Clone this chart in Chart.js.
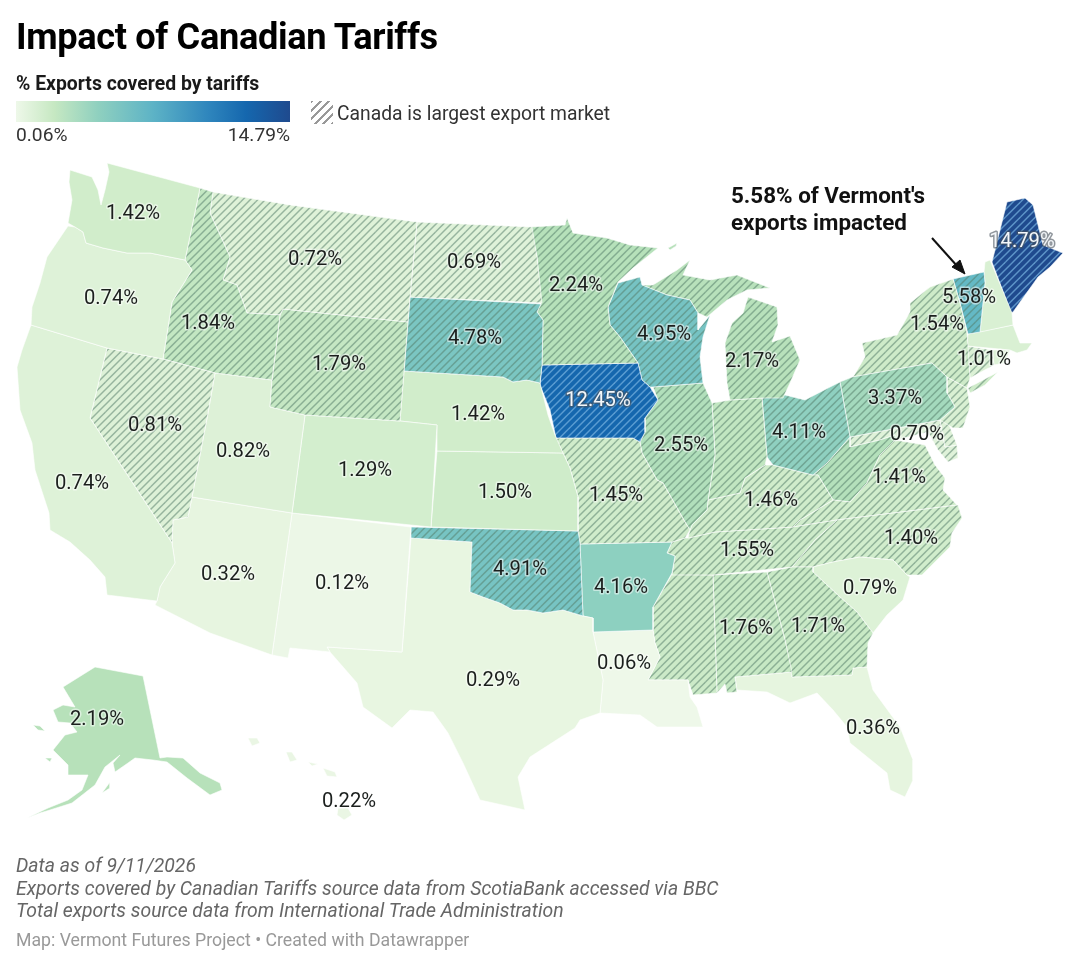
<!DOCTYPE html>
<html>
<head>
<meta charset="utf-8">
<title>Impact of Canadian Tariffs</title>
<script src="https://cdn.jsdelivr.net/npm/chart.js@4/dist/chart.umd.min.js"></script>
<style>
html, body { margin: 0; padding: 0; background: #fff; overflow: hidden; }
body { width: 1080px; height: 967px; position: relative; font-family: Roboto, sans-serif; color: #111; }
#wrap { position: absolute; left: 0; top: 0; width: 1080px; height: 967px; }
.txt { position: absolute; white-space: nowrap; }
#title { left: 16px; top: 14px; font-size: 36.2px; line-height: 46px; font-weight: 700; color: #000; letter-spacing: -0.35px; }
#legendTitle { left: 16px; top: 72px; font-size: 19.4px; line-height: 24px; font-weight: 700; color: #1a1a1a; }
#ramp { position: absolute; left: 16px; top: 101px; width: 274px; height: 21px;
  background: linear-gradient(90deg, #eef8e9 0%, #c6e8c2 14%, #8fd0bf 30%, #5db3c6 50%, #2f86bd 70%, #1567ae 84%, #1f4a8e 100%); }
#rampMin { left: 16px; top: 124px; font-size: 19.2px; line-height: 22px; color: #333; }
#rampMax { left: 190px; width: 100px; text-align: right; top: 124px; font-size: 19.2px; line-height: 22px; color: #333; }
#swatch { position: absolute; left: 311px; top: 101px; width: 22px; height: 23px;
  background: repeating-linear-gradient(135deg, #999 0 1.8px, #fff 1.8px 6px); }
#hatchText { left: 337px; top: 101px; font-size: 19.3px; line-height: 25px; color: #333; }
#note { left: 731px; top: 182px; font-size: 22.4px; line-height: 27px; font-weight: 700; color: #111; }
#foot { left: 16px; top: 855px; font-size: 19.4px; line-height: 22.7px; font-style: italic; color: #666; }
#credit { left: 16px; top: 929px; font-size: 17.7px; line-height: 22px; color: #999; }
</style>
</head>
<body>
<div id="wrap"><canvas id="map"></canvas></div>
<div class="txt" id="title">Impact of Canadian Tariffs</div>
<div class="txt" id="legendTitle">% Exports covered by tariffs</div>
<div id="ramp"></div>
<div class="txt" id="rampMin">0.06%</div>
<div class="txt" id="rampMax">14.79%</div>
<div id="swatch"></div>
<div class="txt" id="hatchText">Canada is largest export market</div>
<div class="txt" id="note">5.58% of Vermont's<br>exports impacted</div>
<div class="txt" id="foot">Data as of 9/11/2026<br>Exports covered by Canadian Tariffs source data from ScotiaBank accessed via BBC<br>Total exports source data from International Trade Administration</div>
<div class="txt" id="credit">Map: Vermont Futures Project • Created with Datawrapper</div>
<script>
// state values (unlabelled ones estimated from fill colour)
const stateCodes = ['WA','OR','CA','NV','ID','MT','WY','UT','AZ','CO','NM','ND','SD','NE','KS','OK','TX','MN','IA','MO','AR','LA','WI','IL','MI','IN','OH','KY','TN','MS','AL','GA','FL','SC','NC','VA','WV','PA','NY','VT','NH','ME','MA','CT','RI','NJ','DE','MD','AK','HI'];
const stateValues = [1.42,0.74,0.74,0.81,1.84,0.72,1.79,0.82,0.32,1.29,0.12,0.69,4.78,1.42,1.50,4.91,0.29,2.24,12.45,1.45,4.16,0.06,4.95,2.55,2.17,1.9,4.11,1.46,1.55,1.6,1.76,1.71,0.36,0.79,1.40,1.41,2.4,3.37,1.54,5.58,1.0,14.79,1.01,0.9,0.8,1.0,0.7,0.70,2.19,0.22];
const canadaTop = ['NV','ID','MT','WY','ND','SD','OK','MN','IA','MO','WI','IL','MI','IN','OH','KY','TN','MS','AL','GA','NC','VA','WV','PA','NY','VT','ME','CT','NJ','DE','MD'];

// label anchors in map units
const labelX = [133,111,82,155,208,315,339,243,228,365,342,474,475,478,505,520,493,576,598,616,621,624,664,681,752,null,799,771,747,null,746,818,873,870,911,899,null,895,937,969,null,1022,984,null,null,null,null,917,97,349];
const labelY = [212,297,482,424,322,258,363,450,573,469,582,261,337,413,491,568,679,284,399,494,586,662,333,444,360,null,431,499,549,null,627,625,727,587,537,476,null,397,323,296,null,240,358,null,null,null,null,433,718,800];

// colour ramp stops (value, colour)
const rampValues = [0.06,0.36,1.5,2.2,3.4,4.2,5.6,8,12.45,14.79];
const rampColors = ['#eef8e9','#e6f5df','#cfecca','#b7e1ba','#a3d9bd','#8ccfc0','#63b9c5','#3f9ac4','#1567ae','#1f4a8e'];

// outlines in map units (1 unit = 1 reference pixel)
const WA = [[70,170],[92,177],[98,190],[101,205],[105,190],[109,172],[107,163],[200,188],[185,260],[150,253],[127,253],[103,248],[86,243],[83,232],[75,227],[68,223],[72,200],[69,182]];
const OR = [[68,226],[75,227],[83,232],[86,243],[103,248],[127,253],[150,253],[185,260],[192,270],[172,302],[163,359],[107,348],[31,325],[32,307],[40,283],[47,257]];
const CA = [[31,325],[107,348],[90,418],[172,543],[175,563],[160,587],[157,601],[107,595],[105,577],[90,560],[70,542],[50,530],[49,513],[35,470],[32,443],[20,410],[17,367],[22,350]];
const NV = [[107,348],[163,359],[215,373],[208,413],[192,497],[188,517],[173,520],[172,543],[90,418]];
const ID = [[200,188],[213,192],[210,213],[230,257],[223,280],[237,285],[247,313],[280,315],[272,380],[215,373],[163,359],[172,302],[192,270],[185,260]];
const MT = [[213,192],[290,205],[417,222],[410,297],[408,322],[283,309],[280,315],[247,313],[237,285],[223,280],[230,257],[210,213]];
const WY = [[283,309],[408,322],[400,421],[305,415],[270,407],[272,380],[280,315]];
const UT = [[215,373],[272,380],[270,407],[305,415],[292,513],[192,497],[208,413]];
const AZ = [[192,497],[292,513],[272,655],[210,633],[155,605],[157,601],[160,587],[175,563],[172,543],[173,520],[188,517]];
const CO = [[305,415],[400,421],[437,425],[431,527],[292,513]];
const NM = [[292,513],[411,527],[402,652],[327,647],[330,652],[290,648],[288,658],[272,655]];
const ND = [[417,222],[532,227],[537,257],[542,303],[410,297]];
const SD = [[410,297],[541,304],[537,312],[543,320],[542,365],[540,383],[527,380],[513,382],[503,377],[404,371]];
const NE = [[404,371],[503,377],[513,382],[527,380],[540,383],[548,415],[555,435],[563,453],[437,451],[437,425],[400,421]];
const KS = [[437,451],[563,453],[570,468],[578,497],[578,531],[431,527]];
const OK = [[411,527],[578,531],[580,543],[583,616],[563,610],[543,613],[527,610],[513,610],[500,603],[483,597],[470,592],[472,542],[411,538]];
const TX = [[411,538],[472,542],[470,592],[483,597],[500,603],[513,610],[527,610],[543,613],[563,610],[583,616],[593,618],[593,632],[603,680],[600,713],[580,720],[575,728],[530,757],[518,777],[525,810],[480,800],[463,763],[448,733],[433,712],[410,710],[392,728],[363,707],[357,683],[330,652],[327,647],[402,652]];
const MN = [[530,227],[565,225],[567,218],[573,233],[607,238],[630,245],[658,248],[633,268],[618,282],[608,307],[610,325],[620,337],[638,363],[542,365],[543,320],[537,312],[541,304],[537,257]];
const IA = [[542,365],[638,363],[642,380],[650,387],[658,400],[645,418],[645,432],[640,442],[633,438],[556,438],[550,410],[540,385]];
const MO = [[556,438],[633,438],[640,442],[642,453],[657,480],[663,483],[685,522],[690,530],[685,538],[672,542],[580,544],[578,531],[578,497],[570,468],[563,453],[555,437]];
const AR = [[580,544],[672,542],[667,553],[675,556],[672,573],[653,607],[653,630],[593,632],[593,618],[583,616]];
const LA = [[593,632],[653,630],[655,643],[660,657],[648,680],[688,680],[690,697],[697,707],[703,727],[657,727],[640,715],[600,713],[603,680]];
const WI = [[618,283],[640,277],[642,285],[667,295],[690,300],[698,313],[698,330],[710,315],[703,337],[700,357],[703,383],[653,387],[650,387],[642,380],[638,363],[620,337],[610,325],[608,307]];
const MIUpper = [[653,285],[677,270],[690,260],[683,275],[710,280],[737,275],[770,288],[747,290],[727,300],[707,317],[698,313],[690,300],[667,295],[642,285]];
const MILower = [[748,297],[777,307],[778,325],[772,342],[790,336],[800,360],[790,383],[783,398],[762,398],[730,400],[727,383],[725,343],[732,323],[743,313]];
const IsleRoyale = [[668,248],[677,243],[676,246],[670,250]];
const IL = [[653,387],[703,383],[712,403],[715,455],[708,500],[707,510],[692,525],[690,530],[685,522],[663,483],[657,480],[642,453],[640,442],[645,432],[645,418],[658,400]];
const IN = [[712,403],[730,400],[762,398],[767,457],[765,465],[745,478],[740,493],[708,500],[715,455]];
const OH = [[762,398],[785,395],[805,400],[830,387],[840,382],[850,437],[827,463],[813,475],[793,470],[773,465],[767,457]];
const KY = [[690,530],[692,525],[707,510],[708,500],[740,493],[745,478],[765,465],[773,465],[793,470],[813,475],[818,475],[833,500],[800,520],[793,527],[715,532],[688,538]];
const TN = [[688,538],[715,532],[793,527],[837,520],[815,540],[792,567],[713,575],[672,575],[675,556],[667,553],[672,542],[685,538]];
const MS = [[672,574],[713,575],[717,693],[693,695],[688,680],[648,680],[660,657],[655,643],[653,630],[653,607]];
const AL = [[713,575],[767,572],[785,640],[792,672],[735,677],[737,692],[727,693],[725,684],[717,693]];
const GA = [[767,572],[792,567],[813,567],[813,572],[840,597],[857,612],[873,633],[868,643],[867,667],[853,668],[852,675],[792,677],[785,640]];
const FL = [[735,677],[792,672],[792,677],[852,675],[853,668],[867,667],[873,690],[900,727],[913,760],[913,780],[905,797],[890,790],[887,773],[850,743],[847,727],[833,710],[817,693],[790,703],[767,692],[737,690]];
const SC = [[813,567],[833,562],[860,557],[893,560],[907,575],[910,577],[903,600],[887,615],[873,633],[857,612],[840,597],[813,572]];
const NC = [[837,520],[958,505],[962,518],[952,533],[950,547],[922,575],[907,575],[893,560],[860,557],[833,562],[813,567],[792,567],[815,540]];
const VA = [[833,500],[850,502],[867,483],[880,455],[895,440],[925,445],[935,465],[945,478],[943,490],[957,505],[837,520],[793,527],[800,520]];
const WV = [[850,437],[850,447],[880,440],[895,435],[897,440],[880,455],[867,483],[850,502],[833,500],[818,475],[813,475],[827,463]];
const MD = [[850,437],[940,420],[945,447],[957,445],[958,458],[948,462],[938,450],[928,432],[897,440],[895,435],[880,440],[850,447]];
const PA = [[840,382],[852,377],[932,363],[947,377],[947,393],[955,407],[940,420],[850,437]];
const NY = [[853,377],[865,357],[862,343],[897,335],[910,312],[910,303],[930,287],[953,279],[960,303],[967,333],[968,346],[970,378],[967,388],[947,377],[932,363]];
const LongIsland = [[968,388],[998,372],[985,385],[970,393]];
const VT = [[953,279],[984,272],[985,283],[980,332],[968,334],[960,303]];
const NH = [[984,272],[985,262],[990,260],[1012,313],[1013,325],[980,332],[985,283]];
const ME = [[992,262],[1007,202],[1025,198],[1033,205],[1043,245],[1063,253],[1050,267],[1038,277],[1013,312],[1011,313]];
const MA = [[968,334],[1013,325],[1020,343],[1032,343],[1027,350],[1017,353],[1010,350],[967,346]];
const CT = [[967,346],[992,350],[994,365],[970,378]];
const RI = [[992,350],[1010,350],[1005,363],[994,365]];
const NJ = [[947,377],[967,388],[970,407],[963,428],[953,428],[940,420],[955,407],[947,393]];
const DE = [[940,420],[948,422],[957,445],[945,447]];
const AK = [[63,687],[95,667],[143,676],[160,758],[167,757],[183,758],[200,773],[220,783],[222,790],[210,795],[187,778],[167,762],[153,760],[135,758],[128,763],[115,772],[113,763],[120,755],[105,767],[95,785],[72,803],[50,810],[40,813],[27,818],[48,808],[68,800],[82,790],[88,775],[68,775],[68,765],[53,750],[65,735],[77,732],[70,723],[58,722],[53,710],[63,705],[75,707]];
const Kodiak = [[102,793],[110,782],[110,788]];
const StLawrence = [[33,725],[40,726],[45,731],[38,730]];
const Nunivak = [[45,758],[52,758],[50,762]];
const Kauai = [[248,738],[257,738],[260,743],[252,746]];
const Oahu = [[286,752],[292,752],[297,760],[290,762]];
const Molokai = [[308,762],[318,764],[312,766]];
const Maui = [[323,768],[335,772],[337,777],[327,776]];
const BigIsland = [[338,808],[348,808],[352,815],[344,820],[337,815]];

const stateShapes = [[WA],[OR],[CA],[NV],[ID],[MT],[WY],[UT],[AZ],[CO],[NM],[ND],[SD],[NE],[KS],[OK],[TX],[MN],[IA],[MO],[AR],[LA],[WI],[IL],[MIUpper,MILower,IsleRoyale],[IN],[OH],[KY],[TN],[MS],[AL],[GA],[FL],[SC],[NC],[VA],[WV],[PA],[NY,LongIsland],[VT],[NH],[ME],[MA],[CT],[RI],[NJ],[DE],[MD],[AK,Kodiak,StLawrence,Nunivak],[Kauai,Oahu,Molokai,Maui,BigIsland]];

// Vermont callout
const arrowLine = [[932,238],[958,267]];
const arrowHead = [[965,274],[952,267],[960,260]];

function hexToRgb(hex) {
    return [1, 3, 5].map(i => parseInt(hex.slice(i, i + 2), 16));
}

function colorFor(value) {
    let i = 0;
    while (i < rampValues.length - 2 && value > rampValues[i + 1]) i++;
    const t = Math.min(1, Math.max(0, (value - rampValues[i]) / (rampValues[i + 1] - rampValues[i])));
    const a = hexToRgb(rampColors[i]);
    const b = hexToRgb(rampColors[i + 1]);
    const mix = a.map((c, k) => Math.round(c + (b[k] - c) * t));
    return `rgb(${mix[0]}, ${mix[1]}, ${mix[2]})`;
}

function hatchPattern(base, value) {
    const tile = document.createElement('canvas');
    tile.width = tile.height = 15;
    const ctx = tile.getContext('2d');
    ctx.fillStyle = base;
    ctx.fillRect(0, 0, 15, 15);
    ctx.strokeStyle = value > 10 ? 'rgba(120, 180, 225, 0.7)' : 'rgba(85, 125, 105, 0.52)';
    ctx.lineWidth = 1.5;
    for (let d = 0; d <= 30; d += 7.5) {
        ctx.beginPath();
        ctx.moveTo(d + 1, -1);
        ctx.lineTo(d - 16, 16);
        ctx.stroke();
    }
    return ctx.createPattern(tile, 'repeat');
}

function polygonData(points) {
    const closed = points.concat([points[0]]);
    return closed.map(p => ({ x: p[0], y: p[1] }));
}

const datasets = [];

datasets.push({
    data: polygonData(arrowHead),
    showLine: true, fill: 'shape', pointRadius: 0,
    backgroundColor: '#111', borderColor: '#111', borderWidth: 1
});
datasets.push({
    data: arrowLine.map(p => ({ x: p[0], y: p[1] })),
    showLine: true, fill: false, pointRadius: 0,
    borderColor: '#111', borderWidth: 2
});

stateCodes.forEach((code, i) => {
    const base = colorFor(stateValues[i]);
    const fillStyle = canadaTop.includes(code) ? hatchPattern(base, stateValues[i]) : base;
    stateShapes[i].forEach(points => {
        datasets.push({
            label: code,
            data: polygonData(points),
            showLine: true,
            fill: 'shape',
            tension: 0,
            pointRadius: 0,
            backgroundColor: fillStyle,
            borderColor: 'rgba(255, 255, 255, 0.6)',
            borderWidth: 1
        });
    });
});

// value labels, placed through the scales
const valueLabels = {
    id: 'valueLabels',
    afterDatasetsDraw(chart) {
        const ctx = chart.ctx;
        const xs = chart.scales.x;
        const ys = chart.scales.y;
        ctx.save();
        ctx.font = '400 20.2px Roboto, sans-serif';
        ctx.textAlign = 'center';
        ctx.textBaseline = 'middle';
        ctx.lineJoin = 'round';
        stateCodes.forEach((code, i) => {
            if (labelX[i] === null) return;
            const px = xs.getPixelForValue(labelX[i]);
            const py = ys.getPixelForValue(labelY[i]) + 1.5;
            const text = stateValues[i].toFixed(2) + '%';
            const dark = stateValues[i] > 10;
            ctx.lineWidth = 3;
            ctx.strokeStyle = dark ? 'rgba(70, 80, 90, 0.6)' : 'rgba(255, 255, 255, 0.5)';
            ctx.strokeText(text, px, py);
            ctx.fillStyle = dark ? '#f4f7fa' : '#1b1f1d';
            ctx.fillText(text, px, py);
        });
        ctx.restore();
    }
};

new Chart(document.getElementById('map'), {
    type: 'scatter',
    data: { datasets: datasets },
    plugins: [valueLabels],
    options: {
        responsive: true,
        maintainAspectRatio: false,
        animation: false,
        events: [],
        layout: { padding: 0 },
        scales: {
            x: { type: 'linear', min: 0, max: 1080, display: false },
            y: { type: 'linear', min: 0, max: 967, reverse: true, display: false }
        },
        plugins: {
            legend: { display: false },
            tooltip: { enabled: false }
        }
    }
});
</script>
</body>
</html>
